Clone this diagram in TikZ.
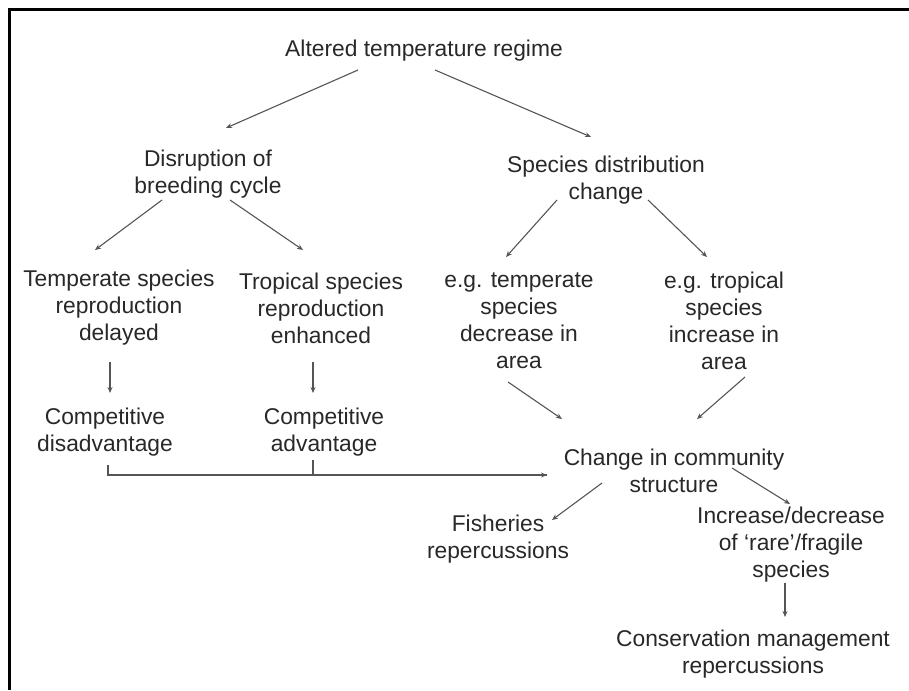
\documentclass[tikz,border=0pt]{standalone}
\usepackage{fontspec}
\setmainfont{Liberation Sans}
\usepackage{tikz}
\definecolor{inkgray}{RGB}{40, 40, 40}
\definecolor{linegray}{RGB}{85, 85, 85}
\usetikzlibrary{arrows.meta}

\begin{document}
\begin{tikzpicture}[
    x=1pt, y=-1pt,
    lbl/.style={inner sep=0pt, align=center, text=inkgray,
                font=\fontsize{22.8pt}{27pt}\selectfont},
    arrow/.style={-{Stealth[length=6pt, width=5pt]}, line width=1.1pt, draw=linegray},
    link/.style={line width=1.1pt, draw=linegray}
]
    \useasboundingbox (0,0) rectangle (909,690);
    % Frame (left and top edges only)
    \draw[line width=2.5pt, black] (9.5,690) |- (909,9.5);

    % Nodes
    \node[lbl] (altered) at (424,51) {Altered temperature regime};
    \node[lbl] (disrupt) at (208,174) {Disruption of\\breeding cycle};
    \node[lbl] (distrib) at (606,180) {Species distribution\\change};
    \node[lbl] (tempdelay) at (119,308) {Temperate species\\reproduction\\delayed};
    \node[lbl] (tropenh) at (321,308) {Tropical species\\reproduction\\enhanced};
    \node[lbl] (egtemp) at (519,321) {e.g. temperate\\species\\decrease in\\area};
    \node[lbl] (egtrop) at (724,321) {e.g. tropical\\species\\increase in\\area};
    \node[lbl] (disadv) at (105,432) {Competitive\\disadvantage};
    \node[lbl] (adv) at (324,432) {Competitive\\advantage};
    \node[lbl] (community) at (674,471) {Change in community\\structure};
    \node[lbl] (fisheries) at (498,539) {Fisheries\\repercussions};
    \node[lbl] (rare) at (791,545) {Increase/decrease\\of `rare'/fragile\\species};
    \node[lbl] (conserv) at (753,654) {Conservation management\\repercussions};

    % Arrows - breeding branch
    \draw[arrow] ([shift={(-66,19)}]altered.center) -- ([shift={(18,-46)}]disrupt.center);
    \draw[arrow] ([shift={(-46,26)}]disrupt.center) -- ([shift={(-24,-58)}]tempdelay.center);
    \draw[arrow] ([shift={(22,26)}]disrupt.center) -- ([shift={(-18,-58)}]tropenh.center);
    \draw[arrow] ([shift={(-9,54)}]tempdelay.center) -- ([shift={(5,-39)}]disadv.center);
    \draw[arrow] ([shift={(-8,54)}]tropenh.center) -- ([shift={(-11,-39)}]adv.center);

    % Arrows - distribution branch
    \draw[arrow] ([shift={(11,19)}]altered.center) -- ([shift={(-15,-43)}]distrib.center);
    \draw[arrow] ([shift={(-49,20)}]distrib.center) -- ([shift={(-13,-64)}]egtemp.center);
    \draw[arrow] ([shift={(42,20)}]distrib.center) -- ([shift={(-17,-64)}]egtrop.center);
    \draw[arrow] ([shift={(-11,61)}]egtemp.center) -- ([shift={(-112,-52)}]community.center);
    \draw[arrow] ([shift={(21,56)}]egtrop.center) -- ([shift={(23,-52)}]community.center);

    % Competition into community
    \draw[arrow] ([shift={(3,33)}]disadv.center) |- ([shift={(-127,4)}]community.center);
    \draw[link] ([shift={(-11,28)}]adv.center) |- ([shift={(-127,4)}]community.center);

    % Outcomes
    \draw[arrow] ([shift={(-72,12)}]community.center) -- ([shift={(54,-19)}]fisheries.center);
    \draw[arrow] ([shift={(58,-3)}]community.center) -- ([shift={(-1,-41)}]rare.center);
    \draw[arrow] ([shift={(-6,38)}]rare.center) -- ([shift={(32,-37)}]conserv.center);
\end{tikzpicture}
\end{document}
